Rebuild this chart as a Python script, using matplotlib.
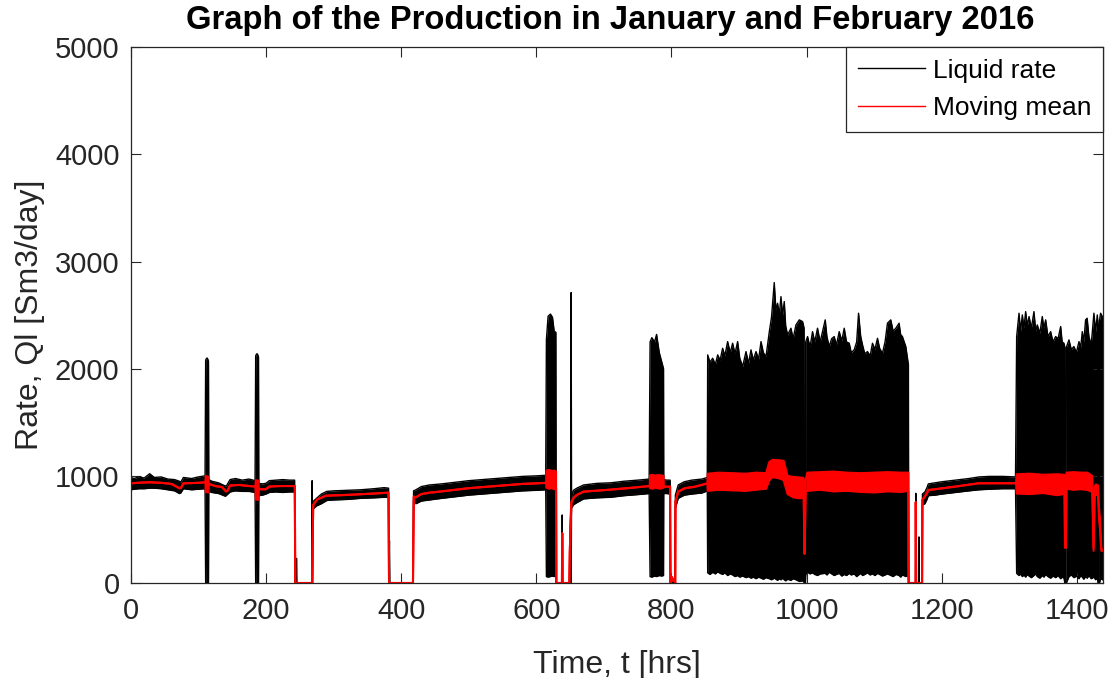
import matplotlib
matplotlib.use("Agg")
import matplotlib.pyplot as plt
from matplotlib.lines import Line2D

plt.rcParams["font.family"] = ["Liberation Sans", "DejaVu Sans"]

# ---------------------------------------------------------------------------
# Liquid rate, Ql [Sm3/day]: time [hrs] with upper / lower edge of the signal
# (the signal is very noisy, so each sample keeps the band it covers)
# ---------------------------------------------------------------------------
t_liq = [
    0, 5, 12, 20, 28, 35, 45, 55, 65, 72, 74, 78, 90, 100, 110,
    110.9, 112, 113, 114, 115.1,
    115.5, 120, 130, 140, 142, 147, 155, 165, 175, 184,
    184.9, 186, 187, 188, 189.1,
    189.5, 195, 200, 205, 215, 225, 235, 242.5,
    243.0, 244.8, 245.3, 245.8, 268.0, 268.4, 268.9,
    269.6, 275, 282, 290, 300, 320, 340, 360, 375, 381.5,
    382.0, 382.8, 383.3, 417.8,
    418.5, 422, 430, 442, 460, 480, 500, 520, 540, 560, 580, 600, 614,
    615, 617.5, 621, 624, 626.5, 629,
    629.6, 638.0, 638.4, 638.8, 649.0, 649.6, 651.0, 651.6, 652.2,
    655, 660, 670, 690, 710, 730, 750, 767,
    768.4, 771, 775, 778, 782, 785, 788.3,
    788.6, 793, 798,
    798.5, 800, 805.2,
    805.8, 810, 819, 830, 845, 853,
    853.6, 857, 861, 865, 868.4, 872, 875.7, 879, 883.1, 887,
    890.5, 894, 897.9, 901, 905.3, 910.3, 914, 917.7, 921, 925.1,
    929, 932.5, 936, 939.9, 944.8, 948, 952.1, 954.5, 957.0, 959.5,
    962.0, 964.5, 966.9, 969, 971.8, 976.8, 980, 984.2, 989.1, 994.0,
    996.2, 996.6, 998.2, 998.6, 1001.4, 1005, 1008.7, 1012, 1016.1, 1020,
    1027.5, 1030, 1033.4, 1037, 1040.8, 1044, 1048.2, 1052, 1055.6, 1059,
    1063.0, 1066, 1070.4, 1074, 1076.8, 1080, 1082.7, 1086, 1090.0, 1094,
    1097.4, 1101, 1104.8, 1108, 1112.2, 1116, 1119.6, 1124.5, 1128, 1131.9,
    1136.8, 1139, 1141.7, 1146.7, 1150.6,
    1151.0, 1161.2, 1161.5, 1161.8, 1165.8, 1166.2, 1166.6, 1171.0,
    1171.3, 1175, 1178, 1180, 1190, 1200, 1220, 1240, 1255, 1270, 1290, 1309,
    1310.7, 1314.2, 1316.5, 1319.1, 1321.5, 1324.0, 1326.5, 1329.0, 1332.5, 1336.3,
    1339, 1341.2, 1345, 1348.6, 1351, 1353.6, 1357, 1361.0, 1364.5, 1368.4,
    1372, 1375.8, 1378, 1380.7, 1382.0, 1382.4, 1383.8, 1384.2, 1388.1, 1391.5,
    1395.5, 1399, 1402.9, 1405.5, 1407.8, 1410, 1412.7, 1415, 1417.6, 1421,
    1425.0, 1427.5, 1430.0, 1431.2, 1431.6, 1432.8, 1433.2, 1434.9, 1438,
]

liq_hi = [
    985, 975, 990, 980, 1020, 985, 990, 970, 965, 950, 940, 985, 975, 990, 1000,
    2080, 2095, 2100, 2090, 2070,
    965, 950, 935, 905, 910, 965, 975, 960, 970, 955,
    2120, 2135, 2140, 2130, 2110,
    930, 925, 930, 955, 960, 965, 960, 960,
    0, 0, 230, 0, 0, 955, 0,
    760, 790, 830, 855, 860, 865, 870, 880, 890, 885,
    0, 395, 0, 0,
    860, 870, 900, 915, 925, 940, 955, 965, 975, 985, 995, 1000, 1005,
    2270, 2490, 2510, 2480, 2350, 2340,
    0, 0, 635, 0, 0, 300, 720, 2711, 790,
    865, 885, 915, 930, 935, 950, 960, 970,
    2250, 2290, 2250, 2320, 2150, 2080, 2000,
    965, 960, 960,
    0, 40, 0,
    820, 915, 945, 960, 970, 985,
    2129, 2060, 2098, 2040, 2129, 2080, 2191, 2120, 2253, 2150,
    2238, 2140, 2253, 2100, 2020, 2160, 2050, 2176, 2080, 2160,
    2090, 2253, 2150, 2113, 2346, 2480, 2804, 2550, 2611, 2500,
    2673, 2500, 2627, 2400, 2315, 2378, 2280, 2409, 2456, 2440,
    2380, 0, 0, 2250, 2300, 2200, 2346, 2250, 2378, 2250,
    2456, 2300, 2207, 2280, 2300, 2220, 2346, 2260, 2378, 2250,
    2238, 2150, 2176, 2250, 2518, 2300, 2222, 2140, 2160, 2120,
    2238, 2180, 2284, 2190, 2144, 2250, 2425, 2456, 2350, 2378,
    2425, 2320, 2300, 2207, 2036,
    0, 0, 837, 0, 0, 430, 0, 0,
    830, 850, 890, 925, 935, 945, 960, 975, 990, 995, 995, 990,
    2300, 2518, 2350, 2502, 2380, 2533, 2400, 2487, 2380, 2533,
    2350, 2409, 2330, 2487, 2380, 2456, 2300, 2346, 2250, 2300,
    2280, 2394, 2250, 2238, 2200, 0, 0, 2200, 2269, 2180,
    2207, 2150, 2253, 2200, 2346, 2250, 2456, 2471, 2300, 2222,
    2518, 2346, 2502, 2400, 0, 0, 2450, 2518, 2480,
]

liq_lo = [
    870, 875, 880, 880, 885, 885, 880, 870, 860, 835, 840, 880, 870, 875, 880,
    0, 0, 0, 0, 0,
    855, 845, 835, 810, 820, 850, 860, 855, 855, 845,
    0, 0, 0, 0, 0,
    815, 820, 830, 845, 850, 845, 850, 850,
    0, 0, 0, 0, 0, 0, 0,
    690, 720, 740, 770, 775, 780, 790, 795, 800, 800,
    0, 0, 0, 0,
    770, 740, 765, 775, 790, 805, 820, 830, 840, 850, 860, 865, 870,
    60, 55, 60, 65, 60, 70,
    0, 0, 0, 0, 0, 0, 650, 0, 700,
    730, 750, 785, 795, 800, 815, 825, 835,
    60, 55, 65, 60, 70, 65, 70,
    835, 835, 830,
    0, 0, 0,
    700, 790, 820, 830, 840, 860,
    95, 80, 100, 85, 105, 90, 80, 95, 70, 85,
    75, 60, 70, 55, 65, 50, 60, 45, 55, 40,
    55, 45, 35, 50, 40, 30, 45, 35, 25, 40,
    30, 45, 30, 20, 35, 25, 40, 30, 15, 20,
    10, 0, 0, 80, 100, 85, 95, 80, 70, 85,
    90, 75, 100, 85, 70, 80, 90, 65, 80, 70,
    90, 75, 85, 60, 75, 90, 70, 80, 95, 75,
    85, 70, 90, 80, 65, 75, 85, 70, 60, 80,
    70, 55, 75, 60, 70,
    0, 0, 0, 0, 0, 0, 0, 0,
    730, 740, 780, 815, 820, 830, 845, 860, 870, 875, 880, 880,
    90, 70, 85, 60, 75, 55, 80, 65, 50, 70,
    85, 60, 45, 70, 55, 80, 60, 45, 65, 50,
    70, 40, 55, 45, 0, 0, 0, 0, 60, 75,
    50, 65, 40, 70, 55, 35, 60, 45, 70, 40,
    55, 30, 50, 0, 0, 0, 0, 40, 30,
]

# ---------------------------------------------------------------------------
# Moving mean of the liquid rate: time [hrs] with upper / lower edge
# (a single line where both are equal, a band where the mean jitters)
# ---------------------------------------------------------------------------
t_mean = [
    0, 10, 28, 45, 60, 72, 74, 78, 100, 110.5,
    111, 115,
    115.5, 125, 135, 141, 143, 147, 160, 175, 184.5,
    185, 189,
    189.5, 200, 205, 220, 242.8,
    243.4, 268.3,
    270, 276, 289, 320, 360, 381.3,
    382.2, 417.6,
    418.8, 422, 430, 442, 460, 480, 500, 520, 540, 560, 580, 600, 614.5,
    615, 619, 623, 627, 629.3,
    629.8, 638.0, 638.4, 639.0, 649.0, 649.6, 651.9,
    652.5, 656, 660, 670, 703, 733, 767.8,
    768.4, 772, 776, 780, 784, 788.3,
    788.6, 798.0,
    798.6, 800, 802, 803.5, 805.6,
    806.0, 810, 820, 835, 853.2,
    853.6, 870, 890, 910, 925, 940, 944.8, 950, 960, 966,
    971.8, 980, 990, 995.5, 997, 998.5, 1001, 1020, 1040, 1060,
    1080, 1100, 1120, 1140, 1150.4,
    1150.8, 1161.2, 1161.5, 1162.0, 1170.8,
    1171.3, 1178, 1180, 1190, 1220, 1255, 1309.8,
    1310.7, 1330, 1350, 1370, 1381.5, 1382.3, 1383.5, 1384.5, 1395, 1405,
    1415, 1422.5, 1424.5, 1426.2, 1428, 1431, 1432.5, 1434, 1436, 1438,
]

mean_hi = [
    930, 935, 940, 935, 925, 885, 885, 930, 935, 940,
    1000, 990,
    925, 905, 895, 855, 860, 910, 915, 905, 900,
    960, 955,
    875, 875, 900, 905, 905,
    0, 0,
    728, 780, 815, 822, 835, 843,
    0, 0,
    806, 800, 830, 843, 855, 870, 885, 895, 905, 915, 925, 930, 935,
    1050, 1055, 1045, 1050, 1040,
    0, 0, 464, 0, 0, 291, 744,
    760, 800, 822, 853, 868, 884, 905,
    1005, 1010, 1000, 1008, 1005, 1000,
    899, 899,
    0, 60, 20, 40, 0,
    760, 853, 885, 899, 930,
    1020, 1030, 1025, 1020, 1030, 1025, 1130, 1150, 1145, 1140,
    1000, 990, 985, 980, 280, 960, 1030, 1035, 1040, 1030,
    1025, 1030, 1035, 1030, 1030,
    0, 0, 755, 0, 0,
    775, 837, 868, 875, 900, 931, 931,
    1015, 1020, 1010, 1015, 1010, 330, 330, 1030, 1035, 1030,
    1030, 1000, 330, 900, 920, 910, 700, 600, 320, 310,
]

mean_lo = [
    930, 935, 940, 935, 925, 885, 885, 930, 935, 940,
    850, 845,
    925, 905, 895, 855, 860, 910, 915, 905, 900,
    780, 775,
    875, 875, 900, 905, 905,
    0, 0,
    728, 780, 815, 822, 835, 843,
    0, 0,
    806, 800, 830, 843, 855, 870, 885, 895, 905, 915, 925, 930, 935,
    890, 880, 885, 875, 885,
    0, 0, 464, 0, 0, 291, 744,
    760, 800, 822, 853, 868, 884, 905,
    885, 880, 890, 884, 880, 890,
    899, 899,
    0, 60, 20, 40, 0,
    760, 853, 885, 899, 930,
    860, 870, 865, 860, 870, 880, 960, 990, 975, 960,
    830, 800, 790, 800, 270, 850, 860, 870, 855, 860,
    850, 845, 855, 850, 860,
    0, 0, 755, 0, 0,
    775, 837, 868, 875, 900, 931, 931,
    835, 830, 840, 820, 830, 330, 330, 880, 870, 875,
    870, 850, 300, 830, 820, 830, 600, 500, 300, 300,
]

x_ticks = [0, 200, 400, 600, 800, 1000, 1200, 1400]
y_ticks = [0, 1000, 2000, 3000, 4000, 5000]
series_labels = ["Liquid rate", "Moving mean"]

assert len(t_liq) == len(liq_hi) == len(liq_lo)
assert len(t_mean) == len(mean_hi) == len(mean_lo)

axis_color = "#262626"

fig = plt.figure(figsize=(11.14, 6.78), dpi=100)
ax = fig.add_axes([130.7 / 1114, 95 / 678, 972 / 1114, 535.7 / 678])

# liquid rate: filled band plus its two edges (keeps thin drops visible)
ax.fill_between(t_liq, liq_lo, liq_hi, color="black", lw=0)
ax.plot(t_liq, liq_hi, color="black", lw=1.0)
ax.plot(t_liq, liq_lo, color="black", lw=1.0)

# moving mean on top
ax.fill_between(t_mean, mean_lo, mean_hi, color="red", lw=0)
ax.plot(t_mean, mean_hi, color="red", lw=1.5)
ax.plot(t_mean, mean_lo, color="red", lw=1.5)

ax.set_xlim(0, 1438)
ax.set_ylim(0, 5000)
ax.set_xticks(x_ticks)
ax.set_yticks(y_ticks)
ax.tick_params(direction="in", length=7, width=0.8, top=True, right=True,
               labelsize=21, colors=axis_color, pad=8)
ax.tick_params(axis="x", pad=10)
for sp in ax.spines.values():
    sp.set_color(axis_color)
    sp.set_linewidth(0.9)

ax.set_xlabel("Time, t [hrs]", fontsize=23, color=axis_color, labelpad=18)
ax.set_ylabel("Rate, Ql [Sm3/day]", fontsize=23, color=axis_color, labelpad=7)
ax.set_title("Graph of the Production in January and February 2016",
             fontsize=23.6, fontweight="bold", color="black", pad=13, x=0.493)

handles = [Line2D([], [], color="black", lw=1.0),
           Line2D([], [], color="red", lw=1.0)]
leg = ax.legend(handles, series_labels, loc="upper right",
                bbox_to_anchor=(1.0, 1.0), borderaxespad=0.0, fontsize=19,
                frameon=True, fancybox=False, edgecolor=axis_color,
                framealpha=1.0, handlelength=2.55, handletextpad=0.3,
                borderpad=0.43, labelspacing=0.52)
leg.get_frame().set_linewidth(0.9)

fig.savefig("out.png", dpi=100)
